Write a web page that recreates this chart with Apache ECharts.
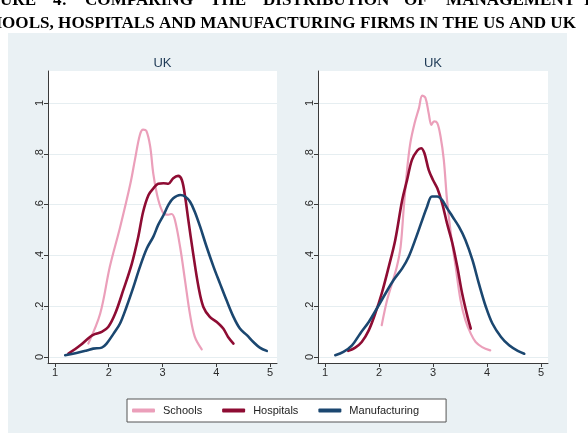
<!DOCTYPE html>
<html>
<head>
<meta charset="utf-8">
<script src="https://cdn.jsdelivr.net/npm/echarts@6/dist/echarts.min.js"></script>
<style>
html,body{margin:0;padding:0;background:#fff;}
#chart{width:588px;height:434px;}
</style>
</head>
<body>
<div id="chart"></div>
<script>
// ---- data ----
var panelTitles = ['UK', 'UK'];
var seriesNames = ['Schools', 'Hospitals', 'Manufacturing'];
var xTicks = [1, 2, 3, 4, 5];
var yTicks = [0, 0.2, 0.4, 0.6, 0.8, 1];

var leftSchools = [[1.62,0.053],[1.84,0.17],[2.02,0.355],[2.21,0.51],[2.40,0.68],[2.49,0.78],[2.58,0.875],[2.64,0.895],[2.70,0.89],[2.77,0.83],[2.83,0.72],[2.92,0.62],[3.02,0.565],[3.11,0.56],[3.17,0.563],[3.23,0.54],[3.33,0.43],[3.42,0.30],[3.51,0.17],[3.60,0.08],[3.73,0.03]];
var leftHospitals = [[1.25,0.013],[1.47,0.046],[1.65,0.079],[1.74,0.09],[1.87,0.099],[1.99,0.118],[2.12,0.171],[2.27,0.263],[2.43,0.368],[2.55,0.474],[2.64,0.572],[2.74,0.638],[2.83,0.664],[2.92,0.682],[3.02,0.684],[3.11,0.682],[3.20,0.704],[3.29,0.713],[3.36,0.697],[3.42,0.632],[3.48,0.54],[3.57,0.408],[3.67,0.276],[3.76,0.197],[3.88,0.158],[4.01,0.138],[4.13,0.112],[4.22,0.079],[4.32,0.053]];
var leftManufacturing = [[1.19,0.007],[1.40,0.016],[1.59,0.026],[1.71,0.033],[1.87,0.037],[1.96,0.053],[2.09,0.092],[2.21,0.132],[2.33,0.197],[2.46,0.276],[2.58,0.355],[2.71,0.428],[2.83,0.474],[2.92,0.52],[3.02,0.559],[3.11,0.599],[3.20,0.625],[3.33,0.638],[3.42,0.632],[3.51,0.612],[3.60,0.572],[3.70,0.513],[3.82,0.434],[3.95,0.355],[4.07,0.289],[4.19,0.224],[4.32,0.158],[4.44,0.112],[4.57,0.086],[4.69,0.059],[4.81,0.037],[4.94,0.024]];

var rightSchools = [[2.05,0.125],[2.15,0.224],[2.24,0.289],[2.33,0.355],[2.40,0.434],[2.46,0.592],[2.52,0.737],[2.58,0.842],[2.66,0.921],[2.74,0.98],[2.80,1.029],[2.86,1.02],[2.92,0.96],[2.97,0.914],[3.02,0.928],[3.08,0.921],[3.14,0.868],[3.20,0.776],[3.26,0.618],[3.33,0.487],[3.42,0.355],[3.51,0.224],[3.60,0.145],[3.70,0.092],[3.79,0.059],[3.91,0.039],[4.06,0.026]];
var rightHospitals = [[1.43,0.024],[1.56,0.037],[1.68,0.059],[1.81,0.105],[1.93,0.171],[2.05,0.25],[2.18,0.355],[2.30,0.46],[2.43,0.618],[2.52,0.697],[2.61,0.776],[2.71,0.813],[2.78,0.822],[2.84,0.803],[2.92,0.737],[3.00,0.697],[3.08,0.664],[3.17,0.605],[3.26,0.526],[3.36,0.447],[3.45,0.355],[3.54,0.25],[3.64,0.158],[3.70,0.112]];
var rightManufacturing = [[1.19,0.007],[1.34,0.02],[1.50,0.046],[1.65,0.092],[1.81,0.138],[1.96,0.191],[2.12,0.25],[2.27,0.303],[2.43,0.349],[2.55,0.395],[2.67,0.461],[2.80,0.539],[2.89,0.592],[2.98,0.632],[3.08,0.632],[3.17,0.618],[3.26,0.586],[3.36,0.553],[3.48,0.513],[3.60,0.461],[3.73,0.382],[3.85,0.289],[3.98,0.197],[4.10,0.132],[4.26,0.079],[4.41,0.046],[4.57,0.024],[4.69,0.013]];

var titleLine1 = ['URE', '4:', 'COMPARING', 'THE', 'DISTRIBUTION', 'OF', 'MANAGEMENT', 'IN'];
var titleLine2 = 'SCHOOLS, HOSPITALS AND MANUFACTURING FIRMS IN THE US AND UK';

// ---- styling ----
var colors = ['#eb9fba', '#8e0c33', '#1b4770'];
var widths = [2.2, 2.6, 2.6];
var FONT = 'Liberation Sans, Arial, sans-serif';
var SERIF = 'bold 17.1px "Liberation Serif", "Times New Roman", serif';

var chart = echarts.init(document.getElementById('chart'), null, {renderer: 'canvas'});

function yFmt(v) {
  if (Math.abs(v) < 1e-9) return '0';
  if (Math.abs(v - 1) < 1e-9) return '1';
  return String(Math.round(v * 10) / 10).replace(/^0/, '');
}

function mkX(i) {
  return {
    type: 'value', gridIndex: i, min: 0.87, max: 5.13,
    axisLine: {show: true, onZero: false, lineStyle: {color: '#3a3a3a', width: 1}},
    axisTick: {show: true, length: 4, inside: false, customValues: xTicks, lineStyle: {color: '#3a3a3a'}},
    axisLabel: {customValues: xTicks, color: '#2a2a2a', fontSize: 11, fontFamily: FONT, margin: 4},
    splitLine: {show: false}
  };
}
function mkY(i) {
  return {
    type: 'value', gridIndex: i, min: -0.0236, max: 1.126,
    axisLine: {show: true, onZero: false, lineStyle: {color: '#3a3a3a', width: 1}},
    axisTick: {show: true, length: 4, inside: false, customValues: yTicks, lineStyle: {color: '#3a3a3a'}},
    axisLabel: {customValues: yTicks, rotate: 90, color: '#2a2a2a', fontSize: 11, fontFamily: FONT, margin: 3, formatter: yFmt},
    splitLine: {show: true, customValues: yTicks, lineStyle: {color: '#e6eef1', width: 1}}
  };
}

var series = [];
var panels = [[leftSchools, leftHospitals, leftManufacturing], [rightSchools, rightHospitals, rightManufacturing]];
panels.forEach(function (p, gi) {
  p.forEach(function (d, si) {
    series.push({
      name: seriesNames[si], type: 'line', xAxisIndex: gi, yAxisIndex: gi,
      data: d, showSymbol: false, symbol: 'none', smooth: 0.35,
      lineStyle: {color: colors[si], width: widths[si], cap: 'round', join: 'round'},
      itemStyle: {color: colors[si]},
      silent: true, animation: false
    });
  });
});

// title words for justified first line
var line1X = [0, 53, 85, 210, 263, 404, 446, 584];
var graphics = [
  {type: 'rect', shape: {x: 0, y: 0, width: 588, height: 33}, style: {fill: '#fff'}, z: 0},
  {type: 'rect', shape: {x: 0, y: 0, width: 8, height: 434}, style: {fill: '#fff'}, z: 0},
  {type: 'rect', shape: {x: 567, y: 0, width: 21, height: 434}, style: {fill: '#fff'}, z: 0},
  {type: 'rect', shape: {x: 0, y: 433, width: 588, height: 1}, style: {fill: '#fff'}, z: 0},
  {type: 'text', style: {text: titleLine2, x: 576, y: 23.5, font: SERIF, fill: '#000', align: 'right', verticalAlign: 'middle'}, z: 5},
  {type: 'text', style: {text: panelTitles[0], x: 162.5, y: 63, font: '13px ' + FONT, fill: '#1e3a56', align: 'center', verticalAlign: 'middle'}, z: 5},
  {type: 'text', style: {text: panelTitles[1], x: 433, y: 63, font: '13px ' + FONT, fill: '#1e3a56', align: 'center', verticalAlign: 'middle'}, z: 5}
];
titleLine1.forEach(function (w, i) {
  graphics.push({type: 'text', style: {text: w, x: line1X[i], y: 1, font: SERIF, fill: '#000', align: 'left', verticalAlign: 'middle'}, z: 5});
});

var option = {
  backgroundColor: '#eaf1f4',
  animation: false,
  grid: [
    {left: 48, top: 71, width: 229, height: 292, show: true, backgroundColor: '#fff', borderWidth: 0, containLabel: false},
    {left: 318, top: 71, width: 230, height: 292, show: true, backgroundColor: '#fff', borderWidth: 0, containLabel: false}
  ],
  xAxis: [mkX(0), mkX(1)],
  yAxis: [mkY(0), mkY(1)],
  legend: {
    data: seriesNames, left: 127, top: 399, orient: 'horizontal',
    backgroundColor: '#fff', borderColor: '#555', borderWidth: 1, borderRadius: 0,
    padding: [6, 27, 6, 5], itemGap: 20, itemWidth: 23, itemHeight: 4, icon: 'roundRect',
    textStyle: {fontSize: 11, color: '#222', fontFamily: FONT, padding: [0, 0, 0, 3]},
    selectedMode: false
  },
  graphic: graphics,
  series: series
};
chart.setOption(option);
</script>
</body>
</html>
